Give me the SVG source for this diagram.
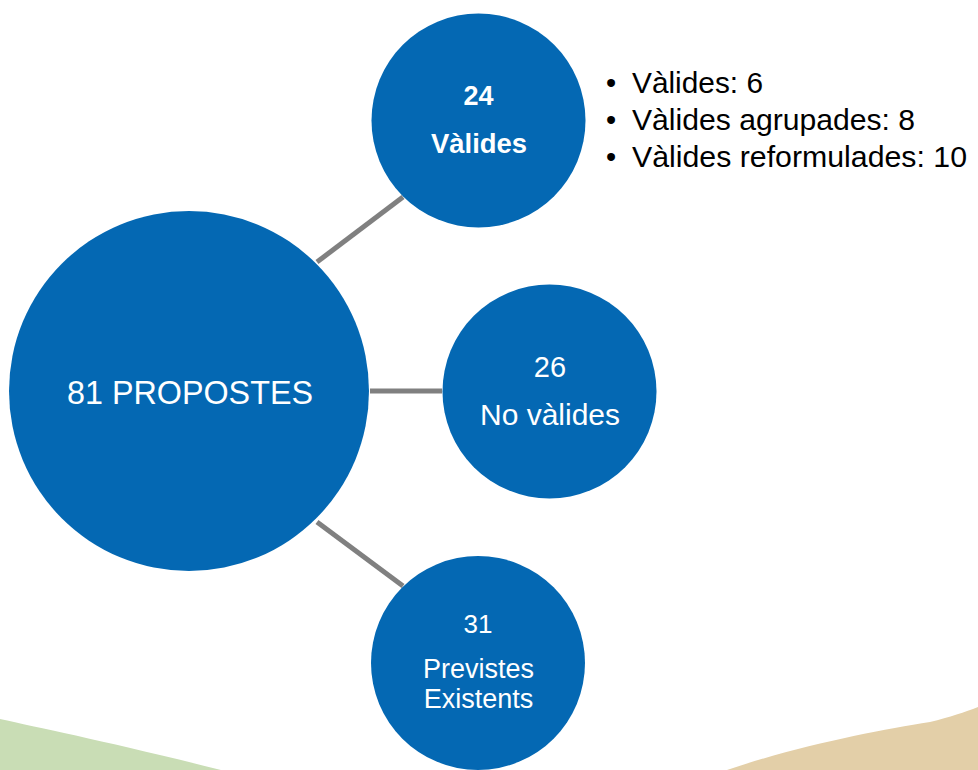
<svg xmlns="http://www.w3.org/2000/svg" width="978" height="770" viewBox="0 0 978 770">
<style>
.node{fill:#0468b3}
.wt{fill:#ffffff;font-family:"Liberation Sans",Arial,sans-serif;text-anchor:middle}
.b{font-weight:bold}
.bt{fill:#000000;font-family:"Liberation Sans",Arial,sans-serif;font-size:29px}
.conn{stroke:#808080;stroke-width:5;fill:none}
</style>
<rect width="978" height="770" fill="#ffffff"/>
<g id="background">
<path d="M0,719 C40,728 110,742 221,770 L0,770 Z" fill="#c9ddb5"/>
<path d="M727,770 C800,745 880,730 930,722 C950,717 965,712 978,707 L978,770 Z" fill="#e3cfa8"/>
</g>
<g id="connectors">
<line class="conn" x1="317" y1="262" x2="403" y2="197"/>
<line class="conn" x1="370" y1="391" x2="442" y2="391"/>
<line class="conn" x1="317" y1="522" x2="403" y2="586"/>
</g>
<g id="node-total">
<circle class="node" cx="189" cy="391" r="180"/>
<text class="wt" x="190" y="404" font-size="34" textLength="246" lengthAdjust="spacingAndGlyphs">81 PROPOSTES</text>
</g>
<g id="node-valides">
<circle class="node" cx="478.5" cy="120.5" r="107"/>
<text class="wt b" x="478.5" y="105" font-size="27">24</text>
<text class="wt b" x="479" y="153" font-size="27" textLength="96" lengthAdjust="spacingAndGlyphs">Vàlides</text>
</g>
<g id="node-novalides">
<circle class="node" cx="549.5" cy="391.5" r="107"/>
<text class="wt" x="550" y="377" font-size="29">26</text>
<text class="wt" x="550" y="425" font-size="29" textLength="140" lengthAdjust="spacingAndGlyphs">No vàlides</text>
</g>
<g id="node-previstes">
<circle class="node" cx="478" cy="663" r="107"/>
<text class="wt" x="478" y="633" font-size="26">31</text>
<text class="wt" x="478.5" y="678" font-size="27">Previstes</text>
<text class="wt" x="478.5" y="708" font-size="27">Existents</text>
</g>
<g id="bullets">
<text class="bt" x="606" y="93">•</text>
<text class="bt" x="632" y="93" textLength="131" lengthAdjust="spacingAndGlyphs">Vàlides: 6</text>
<text class="bt" x="606" y="130">•</text>
<text class="bt" x="632" y="130" textLength="283" lengthAdjust="spacingAndGlyphs">Vàlides agrupades: 8</text>
<text class="bt" x="606" y="167">•</text>
<text class="bt" x="632" y="167" textLength="335" lengthAdjust="spacingAndGlyphs">Vàlides reformulades: 10</text>
</g>
</svg>
